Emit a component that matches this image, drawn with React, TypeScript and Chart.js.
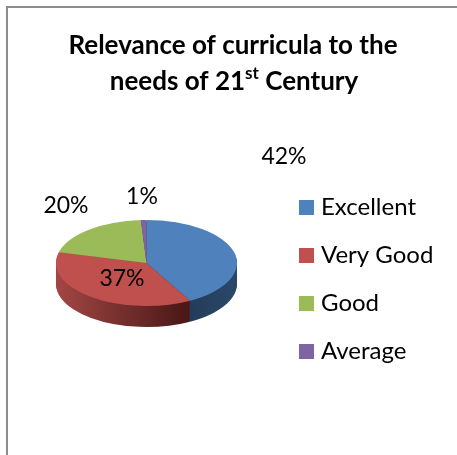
import React, { useEffect, useRef } from "react";
import { Chart, registerables } from "chart.js";

Chart.register(...registerables);

const categories = ["Excellent", "Very Good", "Good", "Average"];
const shares = [42, 37, 20, 1];
const colors = ["#4F81BD", "#C0504D", "#9BBB59", "#8064A2"];

const TITLE_LINE_1 = "Relevance of curricula to the";
const TITLE_LINE_2 = ["needs of 21", "st", " Century"];

const FONT = "Lato";
const LEGEND_SIZE = 24;
const LABEL_SIZE = 23;
const TITLE_SIZE = 26;
const SUP_SIZE = 17;
const LABEL_POS = [
  [284, 157],
  [122, 279],
  [66, 206],
  [142, 197],
];
const PIE = { x: 146.5, y: 263, rx: 90.5, ry: 43, depth: 21 };
const LEGEND_POS = { left: 280, top: 171.5 };

const wallGradient = (ctx: any, i: number) => {
  const g = ctx.createLinearGradient(PIE.x - PIE.rx, 0, PIE.x + PIE.rx, 0);
  if (i === 0) {
    g.addColorStop(0, "#1b2f47");
    g.addColorStop(0.5, "#1b2f47");
    g.addColorStop(1, "#2a4768");
  } else if (i === 1) {
    g.addColorStop(0, "#a64846");
    g.addColorStop(0.75, "#4a1816");
    g.addColorStop(1, "#4a1816");
  } else if (i === 2) {
    g.addColorStop(0, "#5f7337");
    g.addColorStop(1, "#5f7337");
  } else {
    g.addColorStop(0, "#4e3d63");
    g.addColorStop(1, "#4e3d63");
  }
  return g;
};

const swatch = (color: string) => {
  const c = document.createElement("canvas");
  c.width = 15;
  c.height = 15;
  const x = c.getContext("2d") as any;
  x.fillStyle = color;
  x.fillRect(0, 0, 15, 15);
  return c;
};

const pie3d = {
  id: "pie3d",
  afterLayout(chart: any) {
    const l = chart.legend;
    if (!l) return;
    l.left = LEGEND_POS.left;
    l.right = l.left + l.width;
    l.top = LEGEND_POS.top;
    l.bottom = l.top + l.height;
  },
  beforeDatasetsDraw(chart: any) {
    const ctx = chart.ctx;
    const arcs = chart.getDatasetMeta(0).data;
    const k = PIE.ry / PIE.rx;
    const place = (dy: number) => {
      ctx.translate(PIE.x, PIE.y + dy);
      ctx.scale(1, k);
      ctx.translate(-arcs[0].x, -arcs[0].y);
    };
    for (let d = PIE.depth; d >= 1; d--) {
      arcs.forEach((arc: any, i: number) => {
        ctx.save();
        place(d);
        const orig = arc.options;
        arc.options = {
          backgroundColor: wallGradient(ctx, i),
          borderColor: "rgba(0,0,0,0)",
          borderWidth: 0,
          borderAlign: "center",
          borderDash: [],
          borderDashOffset: 0,
          borderJoinStyle: "round",
          borderRadius: 0,
          offset: 0,
          spacing: 0,
          circular: true,
        };
        arc.draw(ctx);
        arc.options = orig;
        ctx.restore();
      });
    }
    ctx.save();
    place(0);
  },
  afterDatasetsDraw(chart: any) {
    const ctx = chart.ctx;
    ctx.restore();
    ctx.save();
    ctx.fillStyle = "#000";
    ctx.textAlign = "center";
    ctx.textBaseline = "middle";
    ctx.font = `${LABEL_SIZE}px ${FONT}`;
    shares.forEach((v, i) => ctx.fillText(`${v}%`, LABEL_POS[i][0], LABEL_POS[i][1]));

    const main = `bold ${TITLE_SIZE}px ${FONT}`;
    const small = `bold ${SUP_SIZE}px ${FONT}`;
    ctx.font = main;
    ctx.fillText(TITLE_LINE_1, 233, 46);
    ctx.textAlign = "left";
    const [a, sup, b] = TITLE_LINE_2;
    const wa = ctx.measureText(a).width;
    const wb = ctx.measureText(b).width;
    ctx.font = small;
    const ws = ctx.measureText(sup).width;
    let x = 234 - (wa + ws + wb) / 2;
    ctx.font = main;
    ctx.fillText(a, x, 82);
    x += wa;
    ctx.font = small;
    ctx.fillText(sup, x, 74);
    x += ws;
    ctx.font = main;
    ctx.fillText(b, x, 82);
    ctx.restore();
  },
};

export default function App() {
  const ref = useRef<HTMLCanvasElement>(null);
  useEffect(() => {
    const chart = new Chart(ref.current as any, {
      type: "pie",
      data: {
        labels: categories,
        datasets: [
          { data: shares, backgroundColor: colors, borderWidth: 0, radius: PIE.rx },
        ],
      },
      options: {
        animation: false,
        responsive: false,
        events: [],
        layout: { padding: { top: 100, left: 10, right: 0, bottom: 10 } },
        plugins: {
          title: { display: false },
          tooltip: { enabled: false },
          legend: {
            position: "right",
            align: "start",
            labels: {
              usePointStyle: true,
              pointStyleWidth: 5,
              boxHeight: 15,
              padding: 24,
              color: "#000",
              font: { family: FONT, size: LEGEND_SIZE },
              generateLabels: (c: any) =>
                (Chart as any).overrides.pie.plugins.legend.labels
                  .generateLabels(c)
                  .map((l: any, i: number) => ({ ...l, pointStyle: swatch(colors[i]) })),
            },
          },
        },
      } as any,
      plugins: [pie3d],
    });
    return () => chart.destroy();
  }, []);
  return (
    <div style={{ position: "absolute", left: 0, top: 0, width: 457, height: 455, overflow: "hidden", background: "#fff" }}>
      <canvas ref={ref} width={457} height={455} style={{ position: "absolute", left: 0, top: 0 }} />
      <div style={{ position: "absolute", left: 6, top: 6, width: 451, height: 449, borderLeft: "2px solid #8c8c8c", borderTop: "2px solid #8c8c8c", boxSizing: "border-box" }} />
    </div>
  );
}
